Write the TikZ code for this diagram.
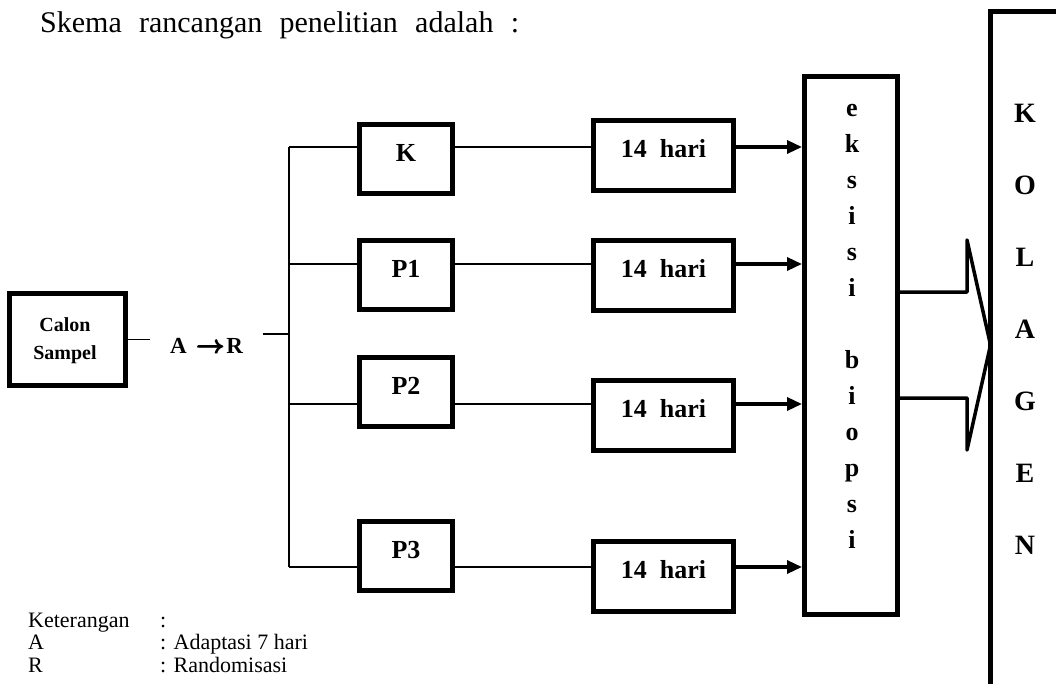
\documentclass[tikz,border=0pt]{standalone}
\usepackage{amsmath}
\usepackage{fontspec}
\usepackage{graphicx}
\setmainfont{Liberation Serif}
\newfontfamily\titlefont[WordSpace=2.3]{Liberation Serif}
\usetikzlibrary{arrows.meta}
\begin{document}
\begin{tikzpicture}[x=1pt,y=-1pt,
  frame/.style={draw, line width=5pt, inner sep=0pt, fill=white},
  boldtext/.style={font=\bfseries\fontsize{26}{30}\selectfont, text height=14pt, text depth=9pt},
  grp/.style={frame, boldtext, minimum width=93pt, minimum height=69pt},
  day/.style={frame, boldtext, minimum width=140pt, minimum height=70pt},
  thin/.style={line width=1.8pt},
  arr/.style={line width=3.3pt, -{Triangle[length=15pt,width=13pt]}},
  bigarrow/.style={line width=3.5pt, line join=round},
  stack/.style={anchor=base, inner sep=0pt, font=\bfseries\fontsize{26}{36}\selectfont}
]
\fill[white] (0,0) rectangle (1056,684);
\useasboundingbox (0,0) rectangle (1056,684);

% heading
\node[anchor=base west, inner sep=0pt, font=\titlefont\fontsize{30}{34}\selectfont]
  (title) at (40,33) {Skema rancangan penelitian adalah :};

% starting box and adaptation / randomisation step
\node[frame, minimum width=116pt, minimum height=92pt, font=\bfseries\fontsize{20}{28}\selectfont]
  (calon) at (67.5,339.5) {\raisebox{6pt}{\hspace*{-5pt}\begin{tabular}{@{}c@{}}Calon\\Sampel\end{tabular}}};
\node[anchor=base, inner xsep=20pt, inner ysep=0pt, font=\bfseries\fontsize{23}{28}\selectfont]
  (ar) at (206.5,353)
  {A\hspace{10pt}{\fontsize{29}{30}\selectfont\boldmath$\pmb{\rightarrow}$}\hspace{1pt}R};

% branch points on the vertical bus
\coordinate (r0) at (289,334);
\coordinate (r1) at (289,147);
\coordinate (r2) at (289,264);
\coordinate (r3) at (289,404);
\coordinate (r4) at (289,567);

% groups
\node[grp] (k)  at (406,159) {K};
\node[grp] (p1) at (406,275) {P1};
\node[grp] (p2) at (406,392) {P2};
\node[grp] (p3) at (406,556) {P3};

% treatment duration
\node[day] (h1) at (663.5,155.5) {14\ \ hari};
\node[day] (h2) at (663.5,275.5) {14\ \ hari};
\node[day] (h3) at (663.5,415)   {14\ \ hari};
\node[day] (h4) at (663.5,576)   {14\ \ hari};

% excision biopsy
\node[frame, minimum width=93pt, minimum height=538pt] (eks) at (851,345.5) {};
\node[stack] (ekstext) at (852,117)
  {\begin{tabular}[t]{@{}c@{}}e\\k\\s\\i\\s\\i\\ \\b\\i\\o\\p\\s\\i\end{tabular}};

% collagen column
\draw[line width=5pt] (1056,12) -- (990.5,12) -- (990.5,684);
\node[stack, font=\bfseries\fontsize{28}{72}\selectfont] (koltext) at (1025,123)
  {\begin{tabular}[t]{@{}c@{}}K\\O\\L\\A\\G\\E\\N\end{tabular}};
\coordinate (tip) at (990.5,345);

% connectors
\draw[thin] (calon.east) -- (calon.east -| ar.west);
\draw[thin] (ar.east |- r0) -- (r0);
\draw[thin] (r1) -- (r4);
\foreach \r/\g/\h in {r1/k/h1, r2/p1/h2, r3/p2/h3, r4/p3/h4}{
  \draw[thin] (\r) -- (\r -| \g.west);
  \draw[thin] (\g.east |- \r) -- (\r -| \h.west);
  \draw[arr] (\h.east |- \r) -- (\r -| eks.west);
}

% broad arrow into the collagen column
\draw[bigarrow] (eks.east |- 0,292) -- (967,292) -- (967,240) -- (tip)
  -- (967,450) -- (967,398) -- (eks.east |- 0,398);

% legend
\node[anchor=base west, inner sep=0pt, font=\fontsize{22}{22.5}\selectfont] (ket) at (28,627)
  {\begin{tabular}[t]{@{}p{132pt}@{}l@{}}Keterangan & :\\ A & : Adaptasi 7 hari\\ R & : Randomisasi\end{tabular}};
\end{tikzpicture}
\end{document}
